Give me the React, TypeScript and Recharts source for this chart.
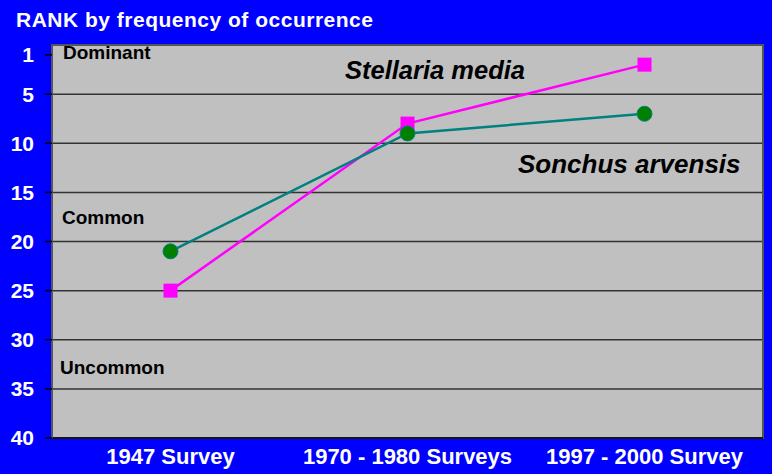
import React from "react";
import { LineChart, Line, XAxis, YAxis, CartesianGrid, ReferenceArea } from "recharts";

const categories = ["1947 Survey", "1970 - 1980 Surveys", "1997 - 2000 Survey"];
const stellariaMedia = [25, 8, 2];
const sonchusArvensis = [21, 9, 7];
const rankTicks = [1, 5, 10, 15, 20, 25, 30, 35, 40];
const gridValues = [5, 10, 15, 20, 25, 30, 35];

const data = categories.map((c, i) => ({
  name: c,
  stellaria: stellariaMedia[i],
  sonchus: sonchusArvensis[i],
}));

const FONT = "Arial, 'Liberation Sans', Helvetica, sans-serif";

const SquareDot = (props: any) => {
  const { cx, cy, index } = props;
  if (cx == null || cy == null) return <g key={index} />;
  return <rect key={index} x={cx - 7} y={cy - 7} width={14} height={14} fill="#FF00FF" />;
};

const CircleDot = (props: any) => {
  const { cx, cy, index } = props;
  if (cx == null || cy == null) return <g key={index} />;
  return <circle key={index} cx={cx} cy={cy} r={7.5} fill="#008000" stroke="#008080" strokeWidth={1} />;
};

const textStyle = (size: number, left: number, top: number, color: string, italic = false): React.CSSProperties => ({
  position: "absolute",
  left,
  top,
  fontFamily: FONT,
  fontWeight: "bold",
  fontStyle: italic ? "italic" : "normal",
  fontSize: size,
  lineHeight: `${size}px`,
  color,
  whiteSpace: "nowrap",
});

export default function App() {
  return (
    <div style={{ position: "absolute", left: 0, top: 0, width: 772, height: 474, background: "#0000FF", overflow: "hidden" }}>
      <LineChart width={772} height={474} data={data} margin={{ top: 45, right: 9, bottom: 0, left: 0 }}>
        <CartesianGrid
          vertical={false}
          horizontalValues={gridValues}
          fill="#C0C0C0"
          fillOpacity={1}
          stroke="#333333"
          strokeWidth={1.5}
        />
        <ReferenceArea y1={0} y2={40} fill="none" stroke="#555555" strokeWidth={2} ifOverflow="visible" />
        <XAxis
          dataKey="name"
          scale="band"
          interval={0}
          height={36}
          tickSize={0}
          tickMargin={10}
          axisLine={{ stroke: "#000000", strokeWidth: 1.5 }}
          tick={{ fill: "#FFFFFF", fontFamily: FONT, fontWeight: "bold", fontSize: 22 }}
        />
        <YAxis
          type="number"
          domain={[0, 40]}
          reversed
          ticks={rankTicks}
          interval={0}
          width={52}
          tickSize={7}
          tickMargin={11}
          axisLine={{ stroke: "#555555", strokeWidth: 2 }}
          tickLine={{ stroke: "#000000", strokeWidth: 1.5 }}
          tick={{ fill: "#FFFFFF", fontFamily: FONT, fontWeight: "bold", fontSize: 21 }}
        />
        <Line
          type="linear"
          dataKey="stellaria"
          stroke="#FF00FF"
          strokeWidth={2.5}
          dot={<SquareDot />}
          activeDot={false}
          isAnimationActive={false}
        />
        <Line
          type="linear"
          dataKey="sonchus"
          stroke="#008080"
          strokeWidth={2.5}
          dot={<CircleDot />}
          activeDot={false}
          isAnimationActive={false}
        />
      </LineChart>
      <div style={{ ...textStyle(21, 16, 9, "#FFFFFF"), letterSpacing: 0.5 }}>RANK by frequency of occurrence</div>
      <div style={textStyle(19, 63, 43, "#000000")}>Dominant</div>
      <div style={textStyle(19, 62, 208, "#000000")}>Common</div>
      <div style={textStyle(19, 60, 358, "#000000")}>Uncommon</div>
      <div style={textStyle(25.5, 345, 58, "#000000", true)}>Stellaria media</div>
      <div style={textStyle(26, 518, 151, "#000000", true)}>Sonchus arvensis</div>
    </div>
  );
}
